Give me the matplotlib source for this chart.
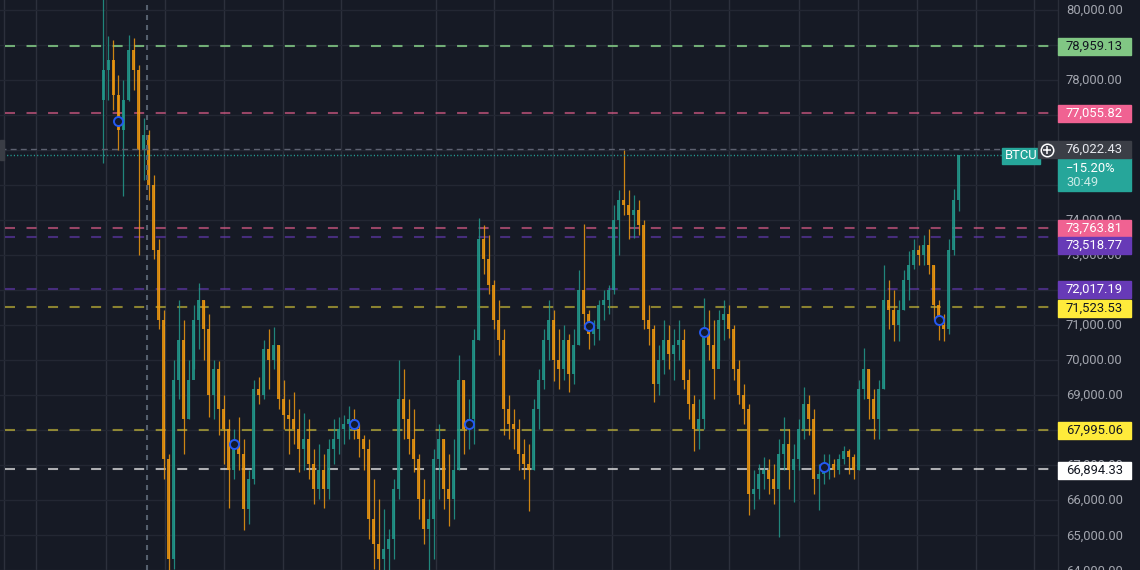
import numpy as np
import matplotlib
matplotlib.use("Agg")
import matplotlib.pyplot as plt
from matplotlib.patches import Rectangle

plt.rcParams['font.family'] = ['Roboto', 'DejaVu Sans']
plt.rcParams['lines.scale_dashes'] = False

# candles, one every 5 px; open of each bar = close of the bar before
first_open = 77430
highs = [80400, 79250, 79140, 78140, 78000, 79280, 79200, 78430, 76910, 76570,
         75290, 73440, 71440, 67300, 70010, 71720, 71150, 70010, 71580, 72210,
         71720, 71300, 70010, 69960, 69010, 68300, 68020, 68360, 67730, 66870,
         69440, 69500, 70580, 70870, 70950, 70440, 69440, 68870, 69070, 68590,
         68470, 68300, 67450, 67590, 67300, 67730, 68300, 68360, 68440, 68670,
         68590, 68160, 67870, 67730, 66590, 66020, 65730, 65160, 66590, 70010,
         69730, 68870, 68590, 67300, 66590, 66020, 67450, 68160, 67730, 67300,
         67730, 70130, 69440, 68870, 70870, 74060, 73860, 73580, 72290, 71720,
         70870, 69010, 68590, 68300, 67730, 67590, 68870, 69730, 70870, 71720,
         71440, 70870, 71010, 70730, 70870, 72580, 73890, 71440, 71150, 71720,
         72010, 72150, 74430, 74860, 76000, 74860, 74720, 74580, 74000, 71580,
         71010, 70440, 71150, 71010, 70870, 71150, 70870, 69730, 69010, 68870,
         71780, 71440, 71150, 71440, 71720, 71580, 71010, 70010, 69300, 68730,
         66870, 67020, 67220, 67160, 67020, 67730, 68360, 68020, 67590, 68300,
         69240, 69010, 68590, 67020, 67300, 67300, 67160, 67300, 67530, 67450,
         67300, 69440, 70330, 69730, 69160, 69440, 72720, 72290, 72010, 71720,
         72580, 73120, 73440, 73290, 73580, 73750, 72720, 71720, 71300, 73440,
         74890, 75860]
lows = [75630, 77430, 77140, 76000, 74690, 77400, 77710, 73010, 75150, 74580,
        72870, 70870, 66590, 63600, 64020, 68870, 67300, 68300, 69730, 70300,
        70010, 68360, 68300, 67850, 67020, 65760, 66590, 66870, 65140, 65310,
        66450, 68730, 68870, 69160, 69730, 68590, 68020, 67300, 67590, 66790,
        66870, 66590, 65880, 66020, 65760, 66020, 67020, 67300, 67590, 67730,
        67730, 67220, 66870, 64880, 64020, 63740, 63740, 63600, 64310, 66020,
        67730, 67300, 66790, 65450, 64740, 63740, 64310, 66020, 65730, 65250,
        65450, 66870, 67300, 67450, 67590, 70580, 72440, 71870, 70870, 70130,
        67850, 67730, 67450, 66870, 66590, 65680, 66870, 68020, 69160, 70010,
        69390, 69160, 69440, 69070, 69300, 70440, 70870, 70300, 70440, 70580,
        71150, 71300, 71870, 73010, 74150, 73440, 73490, 73580, 70870, 70440,
        68790, 69010, 69590, 69730, 69440, 70010, 69160, 68300, 67390, 67450,
        68020, 70010, 68870, 70010, 70580, 70640, 69440, 68730, 68160, 65560,
        65730, 66020, 66310, 66160, 65880, 64940, 66870, 66310, 65930, 66870,
        67730, 67850, 66160, 65710, 66450, 66590, 66650, 66730, 67020, 66730,
        66590, 66870, 68870, 68300, 67730, 67730, 69160, 70870, 70530, 70530,
        71440, 71720, 72610, 72720, 72720, 72440, 71150, 70580, 70530, 70730,
        73010, 74260]
closes = [78280, 78570, 77570, 76570, 77430, 78850, 78280, 76000, 76430, 75000,
          73150, 71150, 67160, 64310, 69440, 70580, 68300, 69440, 71150, 71720,
          70870, 69010, 69730, 68590, 68020, 66870, 67590, 67300, 65730, 66590,
          69160, 69010, 70300, 70010, 70440, 68870, 68440, 68300, 68020, 67450,
          67730, 67020, 66310, 66870, 66310, 67450, 67730, 68020, 68160, 68300,
          68020, 67730, 67450, 65450, 64740, 64310, 64590, 64880, 66310, 68870,
          68300, 67730, 67160, 66020, 65160, 65450, 67160, 67730, 66310, 66020,
          66870, 69440, 68020, 68300, 70580, 73440, 72870, 72150, 71150, 70580,
          68590, 68160, 68020, 67300, 67020, 66870, 68590, 69440, 70580, 71150,
          70010, 69730, 70580, 69590, 70440, 72010, 71300, 70730, 70870, 71580,
          71720, 72010, 74000, 74580, 74430, 74150, 74290, 73860, 71150, 70870,
          69300, 70010, 70580, 70160, 70440, 70580, 69440, 68730, 68020, 68300,
          70870, 70440, 69730, 71150, 71300, 70870, 69730, 69010, 68590, 66160,
          66310, 66730, 66870, 66590, 66310, 67300, 67590, 66870, 67160, 68020,
          68730, 68300, 66590, 66730, 66870, 67020, 66870, 67160, 67390, 67220,
          66870, 69160, 69730, 68870, 68300, 69160, 71720, 71440, 71010, 71440,
          72290, 72720, 73150, 73010, 73290, 72720, 71580, 71010, 70870, 73150,
          74580, 75845]

# blue circles (one per session)
marker_bars = [3, 26, 50, 73, 97, 120, 144, 167]
marker_prices = [76830, 67600, 68170, 68170, 70960, 70790, 66940, 71130]

# horizontal price levels
level_prices = [78959.13, 77055.82, 73763.81, 73518.77, 72017.19, 71523.53, 67995.06, 66894.33]
level_colors = ['#81c784', '#f06292', '#f06292', '#673ab7', '#673ab7', '#ffeb3b', '#ffeb3b', '#ffffff']
level_alpha = [0.85, 0.6, 0.6, 0.6, 0.6, 0.5, 0.5, 0.65]
level_textcol = ['#131722', 'white', 'white', 'white', 'white', '#131722', '#131722', '#131722']
level_shift_px = [0, 0, 0, 8.5, 0, 1, 0, 1]

crosshair_price = 76022.43
change_text = '\u221215.20%'
countdown = '30:49'
symbol = 'BTCU'
price_ticks = list(range(64000, 80001, 1000))

ymin, ymax = 64024, 80280
W, H = 1140, 570
plot_w = 1058
bar_px, first_px = 5, 103.5
vgrid_px = [4, 36, 106, 165, 224, 283, 341, 436, 494, 553, 612, 670, 729, 799, 858, 917, 976, 1034]
cross_x_px = 147

bg = '#161a25'
up_col, down_col = '#22998b', '#ee9810'


def px2bar(p):
    return (p - first_px) / bar_px


fig = plt.figure(figsize=(W / 100, H / 100), dpi=100, facecolor=bg)
ax = fig.add_axes([0, 0, plot_w / W, 1])
ax.set_facecolor(bg)
ax.set_xlim(px2bar(0), px2bar(plot_w))
ax.set_ylim(ymin, ymax)
for s in ax.spines.values():
    s.set_visible(False)
ax.set_xticks([])
ax.set_yticks(price_ticks)
ax.tick_params(left=False, labelleft=False)
ax.grid(axis='y', color='#232733', lw=1)
for p in vgrid_px:
    ax.axvline(px2bar(p), color='#2c303c', lw=1, zorder=0)

# candles
c = np.array(closes, dtype=float)
o = np.concatenate([[first_open], c[:-1]])
hi = np.array(highs, dtype=float)
lo = np.array(lows, dtype=float)
t = np.arange(len(c))
cols = np.where(c >= o, up_col, down_col)
ax.vlines(t, lo, hi, colors=cols, lw=0.9, zorder=3, alpha=0.85)
bottom = np.minimum(o, c)
height = np.maximum(np.abs(c - o), 40)
ax.bar(t, height, bottom=bottom, width=0.5, color=cols, zorder=3, alpha=0.85, linewidth=0)

# level lines
for p, col, a in zip(level_prices, level_colors, level_alpha):
    ax.axhline(p, xmin=5 / plot_w, xmax=1050 / plot_w, color=col, alpha=a, lw=1.5,
               ls=(0, (7.2, 8.3)), zorder=2)

# crosshair + last price line
ax.axhline(crosshair_price, xmax=1038 / plot_w, color='#5d6170', lw=1, ls=(0, (4.3, 3)), zorder=4)
ax.axvline(px2bar(cross_x_px), color='#56606e', lw=1.5, ls=(0, (3.6, 3.6)), zorder=4)
ax.axhline(c[-1], xmax=1002 / plot_w, color='#26a69a', lw=1, ls=(0, (0.8, 1.6)), zorder=4)

ax.plot(marker_bars, marker_prices, ls='none', marker='o', ms=6.5, mfc='#131a2e',
        mec='#2459f0', mew=1.4, zorder=5)

# overlay in pixel x / price y for the scale and labels
ov = fig.add_axes([0, 0, 1, 1])
ov.set_xlim(0, W)
ov.set_ylim(ymin, ymax)
ov.axis('off')
ov.patch.set_visible(False)
ppx = (ymax - ymin) / H


def py(y):
    return ymax - y * ppx


ov.plot([plot_w, plot_w], [ymin, ymax], color='#2a2e39', lw=1)
ov.add_patch(Rectangle((0, py(160)), 4, 20 * ppx, color='#3a3d45', zorder=2))
for p in price_ticks:
    ov.text(1066, p, f'{p:,.2f}', color='#a3a6af', fontsize=9.4, va='center', ha='left', zorder=2)


def label_box(x0, x1, yc, face, text, tcol, z=5):
    ov.add_patch(Rectangle((x0, yc - 8.5 * ppx), x1 - x0, 17 * ppx, color=face, zorder=z))
    ov.text(1066, yc, text, color=tcol, fontsize=9.4, va='center', ha='left', zorder=z + 0.1)


for p, col, tc, sh in zip(level_prices, level_colors, level_textcol, level_shift_px):
    label_box(plot_w, 1131, p - sh * ppx, col, f'{p:,.2f}', tc)

# last price block
ov.add_patch(Rectangle((plot_w, py(191)), 1131 - plot_w, 33 * ppx, color='#26a69a', zorder=5))
ov.text(1066, py(169), change_text, color='white', fontsize=9.4, va='center', zorder=6)
ov.text(1066, py(182.5), countdown, color='#c9ebe6', fontsize=9.4, va='center', zorder=6)
ov.add_patch(Rectangle((1002, py(163.5)), 38, 16 * ppx, color='#26a69a', zorder=5))
ov.text(1005, py(155.5), symbol, color='white', fontsize=9.4, va='center', zorder=6)

# crosshair price label with plus button
ov.add_patch(Rectangle((1038, py(158)), 1131 - 1038, 17 * ppx, color='#3b3e46', zorder=7))
ov.text(1066, crosshair_price, f'{crosshair_price:,.2f}', color='#e6e8ee', fontsize=9.4,
        va='center', zorder=8)
ov.plot([1047], [py(149.5)], marker='o', ms=9, mfc='none', mec='white', mew=1.1, zorder=8)
ov.plot([1047], [py(149.5)], marker='+', ms=5.5, color='white', mew=1.1, zorder=8)

fig.savefig('out.png', dpi=100, facecolor=bg)
